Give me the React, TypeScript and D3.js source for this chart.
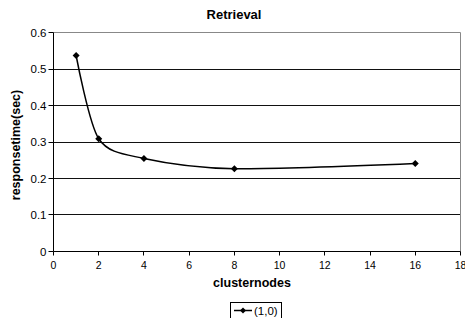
import React from "react";
import * as d3 from "d3";

const nodes = [1, 2, 4, 8, 16];
const responseTime = [0.537, 0.309, 0.255, 0.227, 0.241];
const xTicks = [0, 2, 4, 6, 8, 10, 12, 14, 16, 18];
const yTicks = [0, 0.1, 0.2, 0.3, 0.4, 0.5, 0.6];
const title = "Retrieval";
const xLabel = "clusternodes";
const yLabel = "responsetime(sec)";
const seriesName = "(1,0)";

const W = 465;
const H = 318;
const left = 53.5;
const right = 460.5;
const top = 32.5;
const bottom = 251.5;

export default function App() {
  const x = d3.scaleLinear().domain([0, 18]).range([left, right]);
  const y = d3.scaleLinear().domain([0, 0.6]).range([bottom, top]);
  const snap = (v: number) => Math.round(v - 0.5) + 0.5;
  const pts: [number, number][] = nodes.map((n, i) => [x(n), y(responseTime[i])]);
  const line = d3.line().curve(d3.curveCardinal.tension(0.15))(pts) || "";
  const diamond = (cx: number, cy: number, r: number) =>
    `M${cx},${cy - r}L${cx + r},${cy}L${cx},${cy + r}L${cx - r},${cy}Z`;
  const font = "'Liberation Sans', Arial, sans-serif";
  return (
    <svg
      width={W}
      height={H}
      style={{ position: "absolute", left: 0, top: 0, background: "#fff" }}
      fontFamily={font}
    >
      <rect x={0} y={0} width={W} height={H} fill="#fff" />
      {yTicks.slice(1, -1).map((t) => (
        <line key={"g" + t} x1={left} x2={right} y1={snap(y(t))} y2={snap(y(t))} stroke="#111" strokeWidth={1} />
      ))}
      <line x1={left} x2={right} y1={top} y2={top} stroke="#888" strokeWidth={1} />
      <line x1={right} x2={right} y1={top} y2={bottom} stroke="#888" strokeWidth={1} />
      <line x1={left} x2={left} y1={top} y2={bottom} stroke="#000" strokeWidth={1} />
      <line x1={left} x2={right} y1={bottom} y2={bottom} stroke="#000" strokeWidth={1} />
      {yTicks.map((t) => (
        <g key={"y" + t}>
          <line x1={left - 5} x2={left} y1={snap(y(t))} y2={snap(y(t))} stroke="#000" />
          <text x={left - 7} y={y(t)} dy="0.36em" textAnchor="end" fontSize={11.5} fill="#000">
            {String(t)}
          </text>
        </g>
      ))}
      {xTicks.map((t) => (
        <g key={"x" + t}>
          <line x1={snap(x(t))} x2={snap(x(t))} y1={bottom} y2={bottom + 4} stroke="#000" />
          <text x={x(t)} y={bottom + 17} textAnchor="middle" fontSize={10.5} fill="#000">
            {String(t)}
          </text>
        </g>
      ))}
      <path d={line} fill="none" stroke="#000" strokeWidth={1.5} />
      {pts.map(([px, py], i) => (
        <path key={"m" + i} d={diamond(px, py, 3.5)} fill="#000" />
      ))}
      <text x={234} y={19} textAnchor="middle" fontSize={13} fontWeight="bold" fill="#000">
        {title}
      </text>
      <text x={252} y={287} textAnchor="middle" fontSize={12.5} fontWeight="bold" fill="#000">
        {xLabel}
      </text>
      <text
        transform={`translate(20,${(top + bottom) / 2 + 3}) rotate(-90)`}
        textAnchor="middle"
        fontSize={12.5}
        fontWeight="bold"
        fill="#000"
      >
        {yLabel}
      </text>
      <rect x={230.5} y={302.5} width={51} height={22} fill="#fff" stroke="#000" strokeWidth={1} />
      <line x1={234} x2={252} y1={310.5} y2={310.5} stroke="#000" strokeWidth={1.5} />
      <path d={diamond(243, 310.5, 3)} fill="#000" />
      <text x={254} y={315} fontSize={11.5} fill="#000">
        {seriesName}
      </text>
    </svg>
  );
}
